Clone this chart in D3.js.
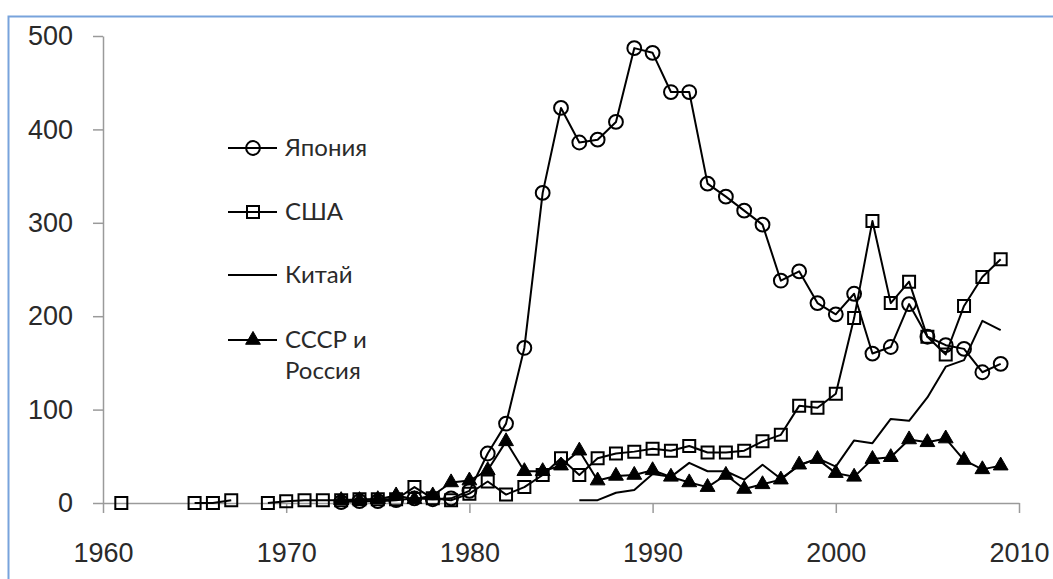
<!DOCTYPE html>
<html>
<head>
<meta charset="utf-8">
<script src="https://cdn.jsdelivr.net/npm/d3@7"></script>
<style>
  body { margin: 0; background: #fff; }
  svg { display: block; font-family: Lato, "Open Sans", sans-serif; }
</style>
</head>
<body>
<div id="chart"></div>
<script>
'use strict';

// years on the x axis, one value per year in each series (null = no data)
const years = [
	1961, 1962, 1963, 1964, 1965, 1966, 1967, 1968, 1969,
	1970, 1971, 1972, 1973, 1974, 1975, 1976, 1977, 1978, 1979,
	1980, 1981, 1982, 1983, 1984, 1985, 1986, 1987, 1988, 1989,
	1990, 1991, 1992, 1993, 1994, 1995, 1996, 1997, 1998, 1999,
	2000, 2001, 2002, 2003, 2004, 2005, 2006, 2007, 2008, 2009];

const japan = [
	null, null, null, null, null, null, null, null, null,
	null, null, null, 1, 2, 2, 3, 5, 4, 5,
	13, 53, 85, 166, 332, 423, 386, 389, 408, 487,
	482, 440, 440, 342, 328, 313, 298, 238, 248, 214,
	202, 224, 160, 167, 213, 178, 169, 165, 140, 149];

const usa = [
	0, null, null, null, 0, 0, 3, null, 0,
	2, 3, 3, 3, 4, 4, 4, 17, 5, 3,
	10, 23, 9, 17, 30, 48, 30, 48, 53, 55,
	58, 56, 61, 54, 54, 56, 66, 73, 104, 102,
	117, 198, 302, 214, 237, 178, 159, 211, 242, 261];

const china = [
	null, null, null, null, null, null, null, null, null,
	null, null, null, null, null, null, null, null, null, null,
	null, null, null, null, null, null, 3, 3, 11, 14,
	31, 28, 43, 34, 34, 25, 41, 26, 40, 48,
	39, 67, 64, 90, 88, 113, 146, 153, 195, 185];

const ussr = [
	null, null, null, null, null, null, null, null, null,
	null, null, null, 3, 3, 4, 8, 4, 8, 22,
	24, 35, 66, 34, 34, 40, 56, 24, 29, 30,
	35, 28, 22, 17, 30, 15, 20, 25, 41, 47,
	32, 28, 47, 49, 68, 65, 69, 46, 36, 40];

const xTicks = [1960, 1970, 1980, 1990, 2000, 2010];
const yTicks = [0, 100, 200, 300, 400, 500];

const series = [
	{ name: ["Япония"], values: japan, marker: "circle" },
	{ name: ["США"], values: usa, marker: "square" },
	{ name: ["Китай"], values: china, marker: "none" },
	{ name: ["СССР и", "Россия"], values: ussr, marker: "triangle" }
];

const width = 1053, height = 579;
const margin = { top: 36, right: 34, bottom: 76, left: 103 };

const svg = d3.select("#chart")
	.append("svg")
		.attr("width", width)
		.attr("height", height);

// blue frame of the chart object
svg.append("path")
	.attr("d", `M8.5,${height} V16.5 H${width}`)
	.attr("fill", "none")
	.attr("stroke", "#78a3dc")
	.attr("stroke-width", 2);

const xScale = d3.scaleLinear()
	.domain([1960, 2010])
	.range([margin.left, width - margin.right]);

const yScale = d3.scaleLinear()
	.domain([0, 500])
	.range([height - margin.bottom, margin.top]);

// axes
const xAxis = svg.append("g")
	.attr("transform", `translate(0,${yScale(0)})`)
	.call(d3.axisBottom(xScale)
		.tickValues(xTicks)
		.tickFormat(d3.format("d"))
		.tickSize(10)
		.tickPadding(30)
		.tickSizeOuter(0));

const yAxis = svg.append("g")
	.attr("transform", `translate(${xScale(1960)},0)`)
	.call(d3.axisLeft(yScale)
		.tickValues(yTicks)
		.tickSize(10)
		.tickPadding(20)
		.tickSizeOuter(0));

svg.selectAll(".domain, .tick line")
	.attr("stroke", "#9a9a9a")
	.attr("stroke-width", 1.5);
svg.selectAll(".tick text")
	.attr("fill", "#2a2a2a")
	.style("font-size", "27px");

const symbolFor = {
	circle: d3.symbol().type(d3.symbolCircle).size(150),
	square: d3.symbol().type(d3.symbolSquare).size(144),
	triangle: d3.symbol().type(d3.symbolTriangle).size(95)
};

function drawMarker(g, kind) {
	if (kind === "none") return;
	g.append("path")
		.attr("d", symbolFor[kind]())
		.attr("fill", kind === "triangle" ? "#000" : "none")
		.attr("stroke", "#000")
		.attr("stroke-width", kind === "triangle" ? 1 : 2);
}

const lineGenerator = d3.line()
	.defined(d => d[1] !== null)
	.x(d => xScale(d[0]))
	.y(d => yScale(d[1]));

series.forEach(s => {
	const pts = years.map((yr, i) => [yr, s.values[i]]);
	svg.append("path")
		.datum(pts)
		.attr("d", lineGenerator)
		.attr("fill", "none")
		.attr("stroke", "#000")
		.attr("stroke-width", 2)
		.attr("stroke-linejoin", "round");

	if (s.marker !== "none") {
		svg.append("g")
			.selectAll("g")
			.data(pts.filter(d => d[1] !== null))
			.join("g")
				.attr("transform", d => `translate(${xScale(d[0])},${yScale(d[1])})`)
				.each(function() { drawMarker(d3.select(this), s.marker); });
	}
});

// legend
const legendY = [148, 212, 275, 340];
const legend = svg.append("g");
series.forEach((s, i) => {
	const g = legend.append("g")
		.attr("transform", `translate(0,${legendY[i]})`);
	g.append("line")
		.attr("x1", 228).attr("x2", 277)
		.attr("stroke", "#000")
		.attr("stroke-width", 2);
	const m = g.append("g").attr("transform", "translate(253,0)");
	drawMarker(m, s.marker);
	s.name.forEach((t, j) => {
		g.append("text")
			.attr("x", 285)
			.attr("y", j * 31)
			.attr("dy", "0.35em")
			.attr("fill", "#2a2a2a")
			.style("font-size", "24px")
			.text(t);
	});
});
</script>
</body>
</html>
